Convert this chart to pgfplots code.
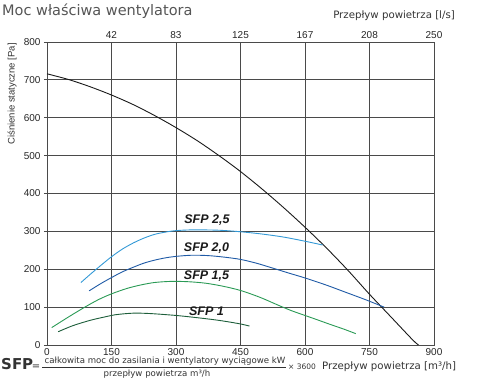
\documentclass[border=0pt]{standalone}
\usepackage{fontspec}
\setmainfont{DejaVu Sans}
\newfontfamily\arial{Liberation Sans}
\usepackage{pgfplots}
\pgfplotsset{compat=1.18}
\definecolor{gridc}{HTML}{4A4A4A}
\definecolor{fanc}{HTML}{1A1A1A}
\definecolor{sfpA}{HTML}{3399D6}
\definecolor{sfpB}{HTML}{1F5AA6}
\definecolor{sfpC}{HTML}{2A9A55}
\definecolor{sfpD}{HTML}{1D5E3A}
\definecolor{titc}{HTML}{555555}
\definecolor{txtc}{HTML}{333333}
\begin{document}
\begin{tikzpicture}[x=1pt,y=1pt]
\path[use as bounding box] (0,0) rectangle (480,380);
\begin{axis}[at={(47pt,35pt)}, anchor=south west, scale only axis,
  width=387pt, height=303pt,
  xmin=0, xmax=900, ymin=0, ymax=800,
  xtick={0,150,...,900}, ytick={0,100,...,800},
  grid=major, major grid style={gridc, line width=0.9pt},
  axis line style={gridc, line width=0.9pt},
  ytick style={gridc, line width=0.9pt}, xtick style={draw=none},
  tick align=outside, major tick length=3pt,
  xtick pos=bottom, ytick pos=left,
  ticklabel style={font=\arial\fontsize{10}{12}\selectfont, text=black!85},
  /pgf/number format/assume math mode=true,
  xticklabel style={yshift=3pt},
]
\addplot[fanc, line width=0.9pt, smooth, tension=0.5] coordinates {
 (0,716) (50,701) (100,682) (150,660) (200,635) (250,606) (300,574) (350,539)
 (400,500) (450,458) (500,412) (550,363) (600,311) (650,256) (700,197)
 (750,134) (800,74) (850,14) (864,0)};
\addplot[sfpA, line width=0.9pt, smooth, tension=0.5] coordinates {
 (79,165) (100,186) (125,210) (150,233) (175,253) (200,269) (225,282) (250,292)
 (275,298) (300,302) (340,304) (400,303) (450,299) (500,293) (550,285) (600,274) (641,264)};
\addplot[sfpB, line width=0.9pt, smooth, tension=0.5] coordinates {
 (98,143) (125,162) (150,178) (175,193) (200,205) (225,216) (250,224) (275,230)
 (300,234) (337,237) (375,236) (412,232) (450,226) (487,216) (525,203) (562,190)
 (600,177) (650,158) (695,139) (740,120) (784,100)};
\addplot[sfpC, line width=0.9pt, smooth, tension=0.5] coordinates {
 (11,46) (50,74) (88,100) (120,120) (150,135) (185,149) (216,158) (250,165)
 (290,168) (330,167) (370,163) (410,155) (450,144) (495,126) (540,104) (570,90)
 (600,78) (630,66) (657,55) (690,42) (718,30)};
\addplot[sfpD, line width=0.9pt, smooth, tension=0.5] coordinates {
 (26,35) (60,51) (100,65) (130,73) (160,80) (200,84) (240,83) (300,78)
 (350,72) (400,65) (448,56) (471,50)};
\node[font=\arial\bfseries\itshape\fontsize{12.5}{14}\selectfont, text=black!90] at (axis cs:372,329) {SFP 2,5};
\node[font=\arial\bfseries\itshape\fontsize{12.5}{14}\selectfont, text=black!90] at (axis cs:371,255) {SFP 2,0};
\node[font=\arial\bfseries\itshape\fontsize{12.5}{14}\selectfont, text=black!90] at (axis cs:371,182) {SFP 1,5};
\node[font=\arial\bfseries\itshape\fontsize{12.5}{14}\selectfont, text=black!90] at (axis cs:371,88) {SFP 1};
\end{axis}
\begin{axis}[at={(47pt,35pt)}, anchor=south west, scale only axis,
  width=387pt, height=303pt,
  xmin=0, xmax=900, ymin=0, ymax=800,
  axis x line*=top, axis y line=none,
  xtick={150,300,...,900}, xticklabels={42,83,125,167,208,250},
  xtick style={draw=none},
  axis line style={gridc, line width=0.9pt},
  ticklabel style={font=\arial\fontsize{10}{12}\selectfont, text=black!85},
]
\addplot[draw=none] coordinates {(0,0)};
\end{axis}
\node[anchor=base west, inner sep=0, text=titc, font=\fontsize{14.5}{16}\selectfont] at (2,364) {Moc właściwa wentylatora};
\node[anchor=base east, inner sep=0, text=txtc, font=\fontsize{10.2}{12}\selectfont] at (455,361) {Przepływ powietrza [l/s]};
\node[rotate=90, anchor=east, inner sep=0, text=txtc, font=\arial\fontsize{9.5}{11}\selectfont] at (12,337) {Ciśnienie statyczne [Pa]};
\node[anchor=base west, inner sep=0, text=txtc, font=\bfseries\fontsize{15}{17}\selectfont] at (1,10) {SFP};
\node[inner sep=0, text=txtc, font=\fontsize{10}{12}\selectfont] at (36,13) {=};
\node[anchor=base, inner sep=0, text=txtc, font=\fontsize{8.6}{10}\selectfont] at (165,16) {całkowita moc do zasilania i wentylatory wyciągowe kW};
\draw[txtc, line width=0.6pt] (42,13) -- (286,13);
\node[anchor=base, inner sep=0, text=txtc, font=\fontsize{8.6}{10}\selectfont] at (157,3) {przepływ powietrza m³/h};
\node[anchor=base west, inner sep=0, text=txtc, font=\fontsize{7.5}{9}\selectfont] at (288,10) {× 3600};
\node[anchor=base west, inner sep=0, text=txtc, font=\fontsize{10.2}{12}\selectfont] at (322,10) {Przepływ powietrza [m³/h]};
\end{tikzpicture}
\end{document}
